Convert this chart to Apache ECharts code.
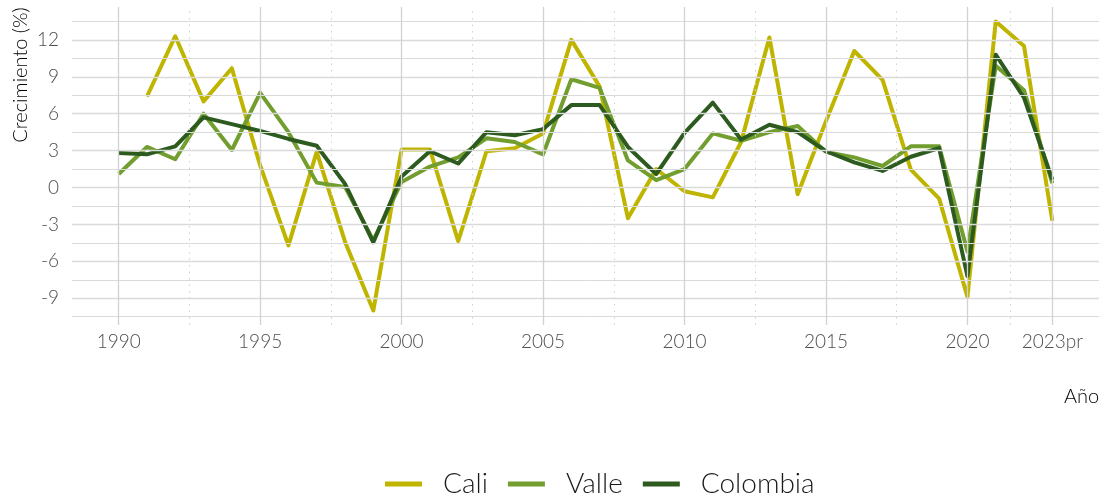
<!DOCTYPE html>
<html>
<head>
<meta charset="utf-8">
<script src="https://cdn.jsdelivr.net/npm/echarts@6/dist/echarts.min.js"></script>
<style>
  html, body { margin: 0; padding: 0; background: #fff; }
  #chart { width: 1099px; height: 494px; }
</style>
</head>
<body>
<div id="chart"></div>
<script>
// Crecimiento (%) — Cali / Valle / Colombia, 1990–2023pr

const years = [1990, 1991, 1992, 1993, 1994, 1995, 1996, 1997, 1998, 1999,
  2000, 2001, 2002, 2003, 2004, 2005, 2006, 2007, 2008, 2009,
  2010, 2011, 2012, 2013, 2014, 2015, 2016, 2017, 2018, 2019,
  2020, 2021, 2022, 2023];

const cali = [null, 7.4, 12.3, 7.0, 9.7, 1.8, -4.7, 2.9, -4.4, -10.0,
  3.1, 3.1, -4.35, 2.95, 3.2, 4.4, 12.0, 8.2, -2.5, 1.5,
  -0.3, -0.8, 3.7, 12.2, -0.55, 5.4, 11.1, 8.75, 1.45, -0.9,
  -8.9, 13.5, 11.5, -2.7];

const valle = [1.1, 3.3, 2.3, 6.0, 3.05, 7.7, 4.5, 0.4, 0.05, -4.3,
  0.45, 1.7, 2.45, 4.0, 3.7, 2.7, 8.8, 8.1, 2.2, 0.6,
  1.5, 4.4, 3.8, 4.5, 5.0, 2.9, 2.45, 1.75, 3.35, 3.35,
  -5.2, 9.9, 7.9, 0.35];

const colombia = [2.8, 2.7, 3.35, 5.7, 5.15, 4.6, 3.95, 3.4, 0.3, -4.45,
  0.9, 2.95, 1.95, 4.5, 4.25, 4.75, 6.7, 6.7, 3.3, 1.1,
  4.45, 6.9, 3.9, 5.1, 4.5, 2.95, 2.05, 1.35, 2.5, 3.2,
  -7.2, 10.8, 7.3, 0.65];

const xTicks      = [1990, 1995, 2000, 2005, 2010, 2015, 2020, 2023];
const xTickLabels = ["1990", "1995", "2000", "2005", "2010", "2015", "2020", "2023pr"];
const xMinor      = [1992.5, 1997.5, 2002.5, 2007.5, 2012.5, 2017.5, 2021.5];
const yTicks      = [-9, -6, -3, 0, 3, 6, 9, 12];
const yMinor      = [-10.5, -7.5, -4.5, -1.5, 1.5, 4.5, 7.5, 10.5, 13.5];

const SERIES = [
  { name: "Cali",     data: cali,     color: "#bfb500" },
  { name: "Valle",    data: valle,    color: "#719e2e" },
  { name: "Colombia", data: colombia, color: "#2d5b1f" },
];

const FONT = "Lato";
const gridClr = "#dadada";

const chart = echarts.init(document.getElementById("chart"), null, { renderer: "canvas" });

// gridlines via markLine (irregular breaks: 2023pr)
const gridSeries = {
  name: "_grid", type: "line", data: [], silent: true, z: 0,
  markLine: {
    silent: true, symbol: "none", animation: false,
    label: { show: false },
    emphasis: { disabled: true },
    data: [
      ...yMinor.map(v => ({ yAxis: v, lineStyle: { color: gridClr, width: 1, type: "solid" } })),
      ...yTicks.map(v => ({ yAxis: v, lineStyle: { color: gridClr, width: 1.3, type: "solid" } })),
      ...xMinor.map(v => ({ xAxis: v, lineStyle: { color: "#d0d0d0", width: 1, type: [1.5, 5] } })),
      ...xTicks.map(v => ({ xAxis: v, lineStyle: { color: "#d2d2d2", width: 1.3, type: "solid" } })),
    ],
  },
};

const series = [gridSeries, ...SERIES.map((s, i) => ({
  name: s.name, type: "line",
  data: years.map((y, k) => [y, s.data[k]]),
  symbol: "none", connectNulls: false,
  itemStyle: { color: s.color },
  lineStyle: { color: s.color, width: 4, join: "round" },
  z: 2 + i,
}))];

chart.setOption({
  backgroundColor: "#fff", animation: false,
  grid: { left: 72, right: 0, top: 7, bottom: 169, containLabel: false },
  xAxis: {
    type: "value", min: 1988.35, max: 2024.65,
    axisLine: { show: false }, axisTick: { show: false }, splitLine: { show: false },
    axisLabel: {
      customValues: xTicks,
      formatter: v => xTickLabels[xTicks.indexOf(Math.round(v))] ?? "",
      color: "#4d4d4d", fontFamily: FONT, fontWeight: 300, fontSize: 19, margin: 7,
    },
  },
  yAxis: {
    type: "value", min: -11.175, max: 14.675,
    axisLine: { show: false }, axisTick: { show: false }, splitLine: { show: false },
    axisLabel: {
      customValues: yTicks,
      color: "#4d4d4d", fontFamily: FONT, fontWeight: 300, fontSize: 19, margin: 13,
    },
  },
  legend: {
    data: SERIES.map(s => s.name),
    left: 380, top: 465, icon: "rect", itemWidth: 37, itemHeight: 5, itemGap: 20,
    textStyle: { color: "#1a1a1a", fontFamily: FONT, fontWeight: 300, fontSize: 28, padding: [0, 0, 0, 16] },
  },
  graphic: [
    {
      type: "text", x: 21, y: 75, rotation: Math.PI / 2,
      style: { text: "Crecimiento (%)", fill: "#000", font: `300 20px ${FONT}`, align: "center", verticalAlign: "middle" },
    },
    {
      type: "text", x: 1064, y: 397,
      style: { text: "Año", fill: "#000", font: `300 20px ${FONT}`, align: "left", verticalAlign: "middle" },
    },
  ],
  series,
});
</script>
</body>
</html>
